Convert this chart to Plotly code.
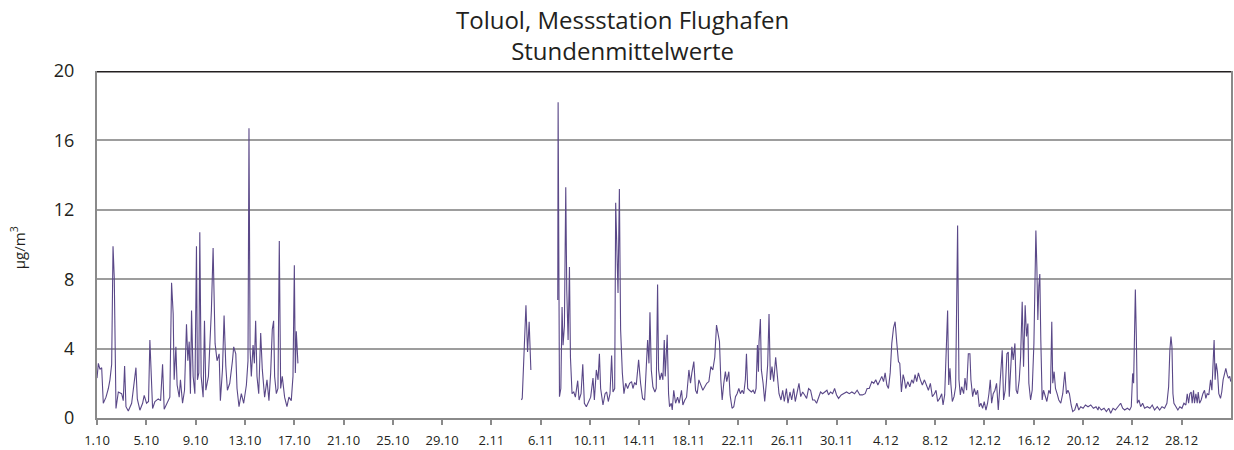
import pandas as pd
import plotly.graph_objects as go

# ---- data: days since 1 Oct (fractional), hourly means in µg/m³ ----
seg1_days = [0.0, 0.11, 0.24, 0.38, 0.51, 0.73, 0.92, 1.05, 1.19, 1.30,
             1.40, 1.54, 1.73, 2.00, 2.13, 2.24, 2.35, 2.54, 2.81, 3.02,
             3.16, 3.27, 3.48, 3.70, 3.83, 4.02, 4.18, 4.29, 4.40, 4.51,
             4.70, 4.97, 5.16, 5.32, 5.45, 5.69, 5.91, 6.05, 6.18, 6.26,
             6.40, 6.50, 6.67, 6.77, 6.94, 7.10, 7.26, 7.37, 7.48, 7.58,
             7.67, 7.80, 7.94, 8.07, 8.15, 8.26, 8.34, 8.45, 8.61, 8.72,
             8.83, 9.04, 9.28, 9.42, 9.58, 9.74, 9.91, 10.01, 10.18, 10.31,
             10.45, 10.58, 10.77, 10.99, 11.09, 11.26, 11.36, 11.52, 11.71, 11.90,
             12.12, 12.25, 12.33, 12.42, 12.52, 12.66, 12.77, 12.87, 12.98, 13.12,
             13.28, 13.41, 13.60, 13.79, 13.95, 14.09, 14.22, 14.33, 14.41, 14.55,
             14.68, 14.79, 14.90, 15.03, 15.22, 15.41, 15.57, 15.76, 15.90, 16.01,
             16.09, 16.17, 16.30]
seg1_vals = [2.3, 3.15, 2.8, 2.9, 0.85, 1.2, 1.7, 2.2, 3.1, 9.9,
             8.1, 0.55, 1.5, 1.4, 1.0, 3.0, 0.65, 0.4, 0.85, 2.3,
             2.9, 1.1, 0.45, 0.85, 1.3, 0.85, 0.95, 4.5, 2.5, 0.55,
             0.95, 1.1, 1.0, 3.1, 0.5, 0.85, 1.2, 7.8, 6.0, 2.2,
             4.1, 1.9, 1.2, 2.2, 0.85, 1.6, 5.4, 3.3, 4.4, 1.4,
             6.2, 2.4, 1.4, 9.9, 2.2, 2.6, 10.7, 2.4, 1.2, 5.6,
             1.6, 2.4, 6.2, 9.8, 4.3, 3.3, 3.7, 1.0, 2.8, 5.9,
             3.0, 1.6, 2.0, 3.3, 4.1, 3.7, 1.7, 0.65, 1.4, 0.85,
             1.9, 3.3, 16.7, 3.9, 2.4, 4.2, 3.15, 5.6, 2.4, 1.4,
             4.9, 2.8, 1.2, 2.2, 1.0, 2.6, 5.1, 5.6, 2.4, 1.4,
             1.7, 10.2, 1.7, 2.4, 1.2, 0.65, 1.2, 1.0, 2.4, 8.8,
             2.6, 5.0, 3.15]

seg2_days = [34.44, 34.50, 34.80, 34.93, 35.06, 35.20]
seg2_vals = [1.04, 1.15, 6.5, 3.8, 5.55, 2.77]

seg3_days = [37.38, 37.41, 37.52, 37.63, 37.73, 37.81, 37.92, 38.03, 38.11, 38.22,
             38.33, 38.41, 38.54, 38.68, 38.81, 39.00, 39.11, 39.27, 39.41, 39.54,
             39.70, 39.87, 40.05, 40.24, 40.35, 40.51, 40.65, 40.76, 40.86, 41.05,
             41.22, 41.35, 41.48, 41.62, 41.75, 41.86, 42.00, 42.08, 42.16, 42.27,
             42.38, 42.48, 42.62, 42.75, 42.89, 43.05, 43.21, 43.37, 43.48, 43.62,
             43.75, 43.94, 44.10, 44.26, 44.43, 44.56, 44.67, 44.78, 44.86, 44.97,
             45.10, 45.26, 45.37, 45.48, 45.56, 45.67, 45.80, 45.91, 46.02, 46.10,
             46.26, 46.37, 46.45, 46.59, 46.67, 46.79, 46.94, 47.10, 47.23, 47.42,
             47.53, 47.69, 47.83, 48.02, 48.15, 48.26, 48.42, 48.56, 48.69, 48.83,
             48.99, 49.15, 49.31, 49.47, 49.64, 49.80, 49.96, 50.12, 50.26, 50.39,
             50.50, 50.61, 50.72, 50.85, 50.98, 51.09, 51.26, 51.36, 51.52, 51.66,
             51.80, 51.93, 52.07, 52.20, 52.34, 52.47, 52.60, 52.69, 52.79, 52.93,
             53.09, 53.23, 53.36, 53.47, 53.58, 53.66, 53.71, 53.82, 53.90, 54.04,
             54.17, 54.30, 54.41, 54.52, 54.63, 54.76, 54.90, 55.06, 55.20, 55.33,
             55.49, 55.63, 55.76, 55.93, 56.06, 56.22, 56.36, 56.52, 56.65, 56.82,
             56.95, 57.09, 57.25, 57.41, 57.57, 57.73, 57.89, 58.06, 58.22, 58.38,
             58.54, 58.70, 58.87, 59.03, 59.22, 59.35, 59.51, 59.68, 59.84, 60.00,
             60.16, 60.38, 60.59, 60.81, 61.03, 61.24, 61.46, 61.67, 61.89, 62.10,
             62.32, 62.48, 62.65, 62.86, 63.02, 63.18, 63.35, 63.54, 63.67, 63.81,
             63.94, 64.08, 64.21, 64.35, 64.48, 64.62, 64.75, 64.89, 65.02, 65.13,
             65.26, 65.40, 65.51, 65.61, 65.78, 65.94, 66.10, 66.23, 66.37, 66.50,
             66.64, 66.80, 66.96, 67.13, 67.29, 67.45, 67.61, 67.77, 67.94, 68.07,
             68.20, 68.37, 68.53, 68.64, 68.77, 68.91, 69.01, 69.10, 69.20, 69.28,
             69.39, 69.53, 69.66, 69.82, 69.93, 70.04, 70.15, 70.31, 70.42, 70.55,
             70.69, 70.82, 70.90, 71.04, 71.17, 71.31, 71.44, 71.58, 71.71, 71.85,
             71.98, 72.12, 72.25, 72.36, 72.47, 72.58, 72.71, 72.85, 72.98, 73.12,
             73.25, 73.36, 73.44, 73.55, 73.68, 73.82, 73.93, 74.01, 74.12, 74.22,
             74.33, 74.47, 74.57, 74.68, 74.82, 74.93, 75.06, 75.17, 75.30, 75.41,
             75.52, 75.60, 75.74, 75.87, 76.01, 76.09, 76.17, 76.25, 76.33, 76.41,
             76.49, 76.57, 76.68, 76.79, 76.92, 77.06, 77.22, 77.35, 77.46, 77.54,
             77.65, 77.76, 77.89, 78.03, 78.19, 78.35, 78.52, 78.65, 78.77, 78.89,
             79.03, 79.16, 79.32, 79.49, 79.65, 79.81, 80.00, 80.19, 80.40, 80.62,
             80.84, 81.05, 81.21, 81.27, 81.48, 81.70, 81.89, 82.08, 82.24, 82.43,
             82.62, 82.83, 83.05, 83.21, 83.37, 83.59, 83.78, 83.91, 84.02, 84.10,
             84.18, 84.24, 84.32, 84.40, 84.53, 84.67, 84.83, 84.99, 85.21, 85.42,
             85.61, 85.80, 86.02, 86.21, 86.40, 86.61, 86.80, 86.94, 87.04, 87.13,
             87.21, 87.29, 87.37, 87.53, 87.69, 87.85, 88.02, 88.18, 88.34, 88.45,
             88.56, 88.66, 88.77, 88.85, 88.96, 89.04, 89.15, 89.26, 89.34, 89.45,
             89.58, 89.72, 89.85, 89.96, 90.07, 90.20, 90.34, 90.45, 90.55, 90.63,
             90.71, 90.80, 90.90, 91.01, 91.15, 91.25, 91.36, 91.47, 91.58, 91.69,
             91.79, 91.90, 91.98]
seg3_vals = [6.8, 18.2, 1.23, 1.7, 6.4, 4.2, 5.3, 13.3, 7.4, 4.5,
             8.7, 3.5, 1.4, 1.5, 1.2, 2.15, 1.04, 1.4, 3.1, 0.85,
             0.65, 0.95, 1.2, 2.3, 1.04, 2.77, 2.2, 3.7, 1.7, 0.75,
             1.4, 1.5, 0.95, 1.4, 3.6, 1.5, 1.7, 12.4, 10.6, 7.2,
             13.2, 5.1, 2.6, 1.4, 2.0, 1.7, 2.0, 2.1, 1.7, 2.05,
             1.9, 3.35, 2.0, 1.13, 1.04, 2.86, 4.5, 3.15, 6.1, 2.77,
             1.8, 1.5, 1.7, 7.7, 2.77, 2.2, 2.6, 2.2, 4.5, 2.4,
             4.8, 1.4, 0.65, 0.85, 0.46, 1.6, 0.85, 1.2, 0.85, 1.6,
             0.75, 1.04, 1.2, 2.77, 2.0, 2.6, 3.25, 1.6, 1.4, 2.2,
             1.9, 1.6, 1.8, 2.0, 2.1, 2.96, 2.77, 3.5, 5.36, 4.9,
             4.4, 2.2, 1.04, 2.0, 2.67, 2.1, 2.67, 1.33, 0.56, 0.65,
             1.23, 1.4, 1.7, 1.4, 1.6, 1.4, 2.2, 3.7, 1.7, 1.6,
             1.5, 1.6, 1.4, 1.7, 4.2, 2.67, 4.4, 5.7, 2.77, 2.0,
             0.95, 2.0, 3.05, 6.0, 2.2, 2.96, 2.1, 3.5, 2.1, 1.4,
             1.04, 1.6, 0.95, 1.7, 0.85, 1.5, 1.04, 1.7, 0.95, 1.6,
             2.0, 1.23, 1.5, 1.33, 1.13, 1.7, 1.6, 1.04, 1.04, 0.85,
             1.23, 1.5, 1.4, 1.5, 1.6, 1.33, 1.5, 1.4, 1.7, 1.33,
             1.13, 1.33, 1.4, 1.5, 1.4, 1.5, 1.4, 1.6, 1.33, 1.33,
             1.4, 1.7, 1.7, 2.1, 2.0, 2.2, 1.9, 2.2, 2.4, 2.1,
             2.6, 1.9, 1.7, 2.6, 4.3, 5.2, 5.55, 4.3, 3.25, 3.15,
             1.5, 2.5, 2.2, 1.7, 2.1, 1.8, 2.2, 2.0, 2.5, 2.1,
             2.6, 2.2, 1.9, 2.2, 1.9, 1.6, 2.0, 1.23, 1.4, 1.6,
             0.95, 1.13, 1.4, 0.75, 1.33, 3.9, 6.2, 1.9, 2.86, 1.9,
             0.95, 1.23, 1.8, 11.1, 2.2, 1.33, 1.8, 1.4, 2.3, 1.6,
             3.7, 3.7, 2.2, 1.23, 1.7, 1.33, 1.6, 0.65, 0.85, 0.56,
             0.95, 0.46, 0.85, 1.4, 2.2, 0.85, 1.4, 1.6, 2.0, 0.46,
             1.8, 2.77, 3.9, 1.04, 1.6, 3.7, 3.8, 1.23, 2.4, 4.1,
             3.35, 4.3, 1.6, 1.4, 2.2, 3.5, 6.7, 2.96, 6.5, 4.7,
             5.45, 2.0, 1.04, 1.6, 4.3, 8.1, 10.8, 8.7, 5.65, 7.6,
             8.3, 4.5, 1.04, 1.6, 1.23, 0.95, 1.6, 1.4, 5.55, 2.0,
             2.67, 1.7, 1.4, 1.04, 0.85, 1.4, 2.67, 1.4, 1.6, 1.4,
             0.75, 0.37, 0.46, 0.85, 0.46, 0.65, 0.56, 0.75, 0.65, 0.75,
             0.56, 0.65, 0.46, 0.65, 0.46, 0.56, 0.37, 0.56, 0.27, 0.56,
             0.46, 0.65, 0.85, 0.56, 0.46, 0.56, 0.46, 0.65, 2.57, 2.0,
             4.9, 7.4, 4.7, 0.85, 1.04, 0.65, 0.85, 0.56, 0.65, 0.56,
             0.75, 0.46, 0.65, 0.46, 0.65, 0.56, 0.85, 1.8, 3.9, 4.7,
             4.1, 1.4, 0.85, 0.65, 0.46, 0.65, 0.56, 0.85, 0.75, 1.4,
             0.85, 1.4, 1.5, 0.85, 1.6, 0.85, 1.4, 0.85, 1.5, 0.85,
             1.04, 1.4, 1.6, 1.13, 1.4, 1.33, 2.2, 1.6, 3.35, 4.5,
             2.2, 3.15, 2.67, 1.4, 1.13, 1.5, 2.2, 2.5, 2.86, 2.5,
             2.3, 2.4, 2.1]

tick_labels = ["1.10", "5.10", "9.10", "13.10", "17.10", "21.10", "25.10", "29.10",
               "2.11", "6.11", "10.11", "14.11", "18.11", "22.11", "26.11", "30.11",
               "4.12", "8.12", "12.12", "16.12", "20.12", "24.12", "28.12"]
tick_days = [0, 4, 8, 12, 16, 20, 24, 28, 32, 36, 40, 44, 48, 52, 56, 60,
             64, 68, 72, 76, 80, 84, 88]

y_ticks = [0, 4, 8, 12, 16, 20]

title_text = "Toluol, Messstation Flughafen<br>Stundenmittelwerte"
y_title = "µg/m<sup>3</sup>"

# ---- build ----
base = pd.Timestamp("2010-10-01")


def to_dates(days):
    return list(base + pd.to_timedelta(days, unit="D"))


x = to_dates(seg1_days) + [None] + to_dates(seg2_days) + [None] + to_dates(seg3_days)
y = seg1_vals + [None] + seg2_vals + [None] + seg3_vals

FONT = "Open Sans"
TEXT_COL = "#231f20"
LINE_COL = "#5a4888"
GRID_COL = "#9d9d9d"
AXIS_COL = "#8a8a8a"

fig = go.Figure()
fig.add_trace(go.Scatter(x=x, y=y, mode="lines", connectgaps=False,
                         line=dict(color=LINE_COL, width=1.1),
                         hoverinfo="x+y", showlegend=False))

fig.update_layout(
    width=1234, height=450, autosize=False,
    margin=dict(l=97, r=1, t=71, b=32),
    paper_bgcolor="white", plot_bgcolor="white",
    font=dict(family=FONT, color=TEXT_COL),
    xaxis=dict(type="date",
               range=[base, base + pd.Timedelta(days=92)],
               tickvals=to_dates(tick_days), ticktext=tick_labels,
               ticks="outside", ticklen=5, tickwidth=1.5, tickcolor=AXIS_COL,
               showline=True, linecolor=AXIS_COL, linewidth=2,
               showgrid=False, zeroline=False,
               tickfont=dict(family=FONT, size=13, color=TEXT_COL),
               ticklabelstandoff=4),
    yaxis=dict(range=[0, 20], tickvals=y_ticks,
               showline=True, linecolor=AXIS_COL, linewidth=2, mirror=True,
               showgrid=True, gridcolor=GRID_COL, gridwidth=1.6,
               zeroline=False, ticks="",
               tickfont=dict(family=FONT, size=18, color=TEXT_COL),
               ticklabelstandoff=17),
)

# dark frame line along the top of the plot area
fig.add_shape(type="line", xref="paper", yref="y", x0=0, x1=1, y0=20, y1=20,
              line=dict(color=TEXT_COL, width=3), layer="above")

# chart title (two lines)
fig.add_annotation(text=title_text, xref="paper", yref="paper",
                   x=0.463, y=1.0, xanchor="center", yanchor="bottom",
                   yshift=2, showarrow=False, align="center",
                   font=dict(family=FONT, size=24, color=TEXT_COL))

# y-axis title
fig.add_annotation(text=y_title, xref="paper", yref="paper",
                   x=-0.0695, y=0.49, xanchor="center", yanchor="middle",
                   textangle=-90, showarrow=False,
                   font=dict(family=FONT, size=15, color=TEXT_COL))

fig.write_html("out.html", config={"displayModeBar": False},
               post_script="document.body.style.margin='0';")
